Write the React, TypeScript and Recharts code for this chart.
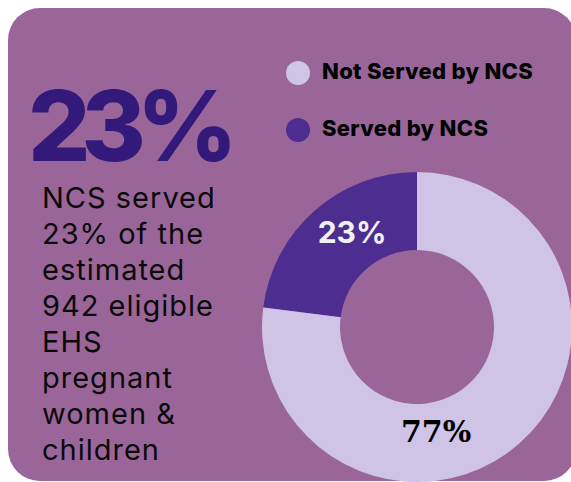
import { PieChart, Pie, Cell, Legend } from 'recharts'

const categories = ['Served by NCS', 'Not Served by NCS']
const shares = [23, 77]
const legendOrder = ['Not Served by NCS', 'Served by NCS']
const headline = '23%'
const blurbLines = ['NCS served', '23% of the', 'estimated', '942 eligible', 'EHS', 'pregnant', 'women &', 'children']

const data = categories.map((name, i) => ({ name, value: shares[i] }))

const COLORS: Record<string, string> = {
  'Served by NCS': '#4E2D90',
  'Not Served by NCS': '#CFC3E6',
}

// label placement tweaks, per slice
const LABEL_STYLE: Record<string, { shift: number; r: number; fill: string; font: string }> = {
  'Served by NCS': { shift: -7, r: 115, fill: '#EEF2F0', font: 'Inter' },
  'Not Served by NCS': { shift: -31, r: 106, fill: '#000000', font: 'DejaVu Serif' },
}

function renderLabel(props: any) {
  const { cx, cy, midAngle, value } = props
  const name = props.name ?? props.payload?.name
  const s = LABEL_STYLE[name]
  const a = ((midAngle + s.shift) * Math.PI) / 180
  const x = cx + s.r * Math.cos(a)
  const y = cy - s.r * Math.sin(a)
  return (
    <text
      x={x}
      y={y}
      textAnchor="middle"
      dominantBaseline="central"
      fill={s.fill}
      style={{ fontFamily: s.font, fontWeight: 700, fontSize: 30 }}
    >
      {`${value}%`}
    </text>
  )
}

function renderLegend() {
  return (
    <div>
      {legendOrder.map((name) => (
        <div
          key={name}
          style={{ display: 'flex', alignItems: 'center', height: 24, marginBottom: 33 }}
        >
          <span
            style={{
              display: 'inline-block',
              width: 24,
              height: 24,
              borderRadius: '50%',
              background: COLORS[name],
              marginTop: 3,
              marginRight: 12,
            }}
          />
          <span
            style={{
              fontFamily: 'Inter',
              fontWeight: 800,
              fontSize: 22,
              lineHeight: '24px',
              color: '#000',
              letterSpacing: '0.3px',
              whiteSpace: 'nowrap',
            }}
          >
            {name}
          </span>
        </div>
      ))}
    </div>
  )
}

export default function App() {
  return (
    <div style={{ position: 'relative', width: 571, height: 482, overflow: 'hidden' }}>
      <style>{'body{margin:0}'}</style>
      <div
        style={{
          position: 'absolute',
          left: 8,
          top: 8,
          width: 568,
          height: 473,
          borderRadius: 32,
          background: '#9A6699',
        }}
      />
      <div
        style={{
          position: 'absolute',
          left: 28,
          top: 88,
          fontFamily: 'Inter',
          fontWeight: 800,
          fontSize: 98,
          lineHeight: '76px',
          letterSpacing: '-9px',
          color: '#33197A',
          whiteSpace: 'nowrap',
        }}
      >
        {headline}
      </div>
      <div
        style={{
          position: 'absolute',
          left: 42,
          top: 180,
          fontFamily: 'Inter',
          fontWeight: 400,
          fontSize: 29,
          lineHeight: '36px',
          letterSpacing: '1px',
          color: '#0A0A0A',
        }}
      >
        {blurbLines.map((line) => (
          <div key={line} style={{ whiteSpace: 'nowrap' }}>
            {line}
          </div>
        ))}
      </div>
      <div style={{ position: 'absolute', left: 0, top: 0 }}>
        <PieChart width={571} height={482} margin={{ top: 0, right: 0, bottom: 0, left: 0 }}>
          <Legend
            content={renderLegend}
            wrapperStyle={{ position: 'absolute', left: 286, top: 59, width: 285, bottom: 'auto' }}
          />
          <Pie
            data={data}
            dataKey="value"
            nameKey="name"
            cx={417}
            cy={327}
            innerRadius={77}
            outerRadius={155}
            startAngle={90}
            endAngle={450}
            stroke="none"
            label={renderLabel}
            labelLine={false}
            isAnimationActive={false}
          >
            {data.map((d) => (
              <Cell key={d.name} fill={COLORS[d.name]} />
            ))}
          </Pie>
        </PieChart>
      </div>
    </div>
  )
}
